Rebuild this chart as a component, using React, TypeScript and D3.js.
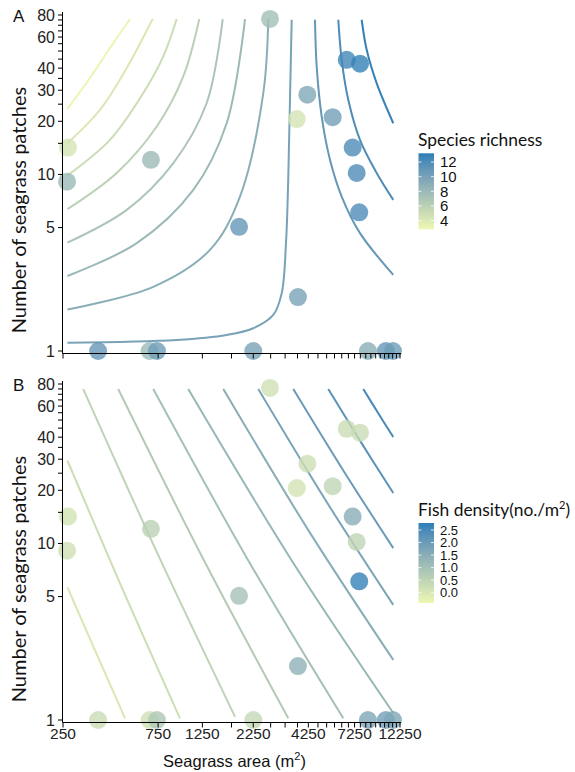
import React from "react";
import * as d3 from "d3";

const W = 575;
const H = 772;

// axis ticks
const areaTicks = d3.range(250, 12251, 500);
const areaTickLabels = [250, 750, 1250, 2250, 4250, 7250, 12250];
const patchTicks = [1, 5, 10, 15, 20, 25, 30, 35, 40, 45, 50, 55, 60, 65, 70, 75, 80];
const patchTickLabels = [1, 5, 10, 20, 30, 40, 60, 80];

// sites
const siteArea = [375, 680, 740, 2250, 8460, 10400, 11300, 265, 262, 690, 1910, 2730, 3770, 3720, 4200, 5630, 6620, 7720, 7090, 7430, 7650];
const sitePatches = [1, 1, 1, 1, 1, 1, 1, 14.2, 9.1, 12.1, 5.05, 76, 2.02, 20.6, 28.3, 21.1, 44.6, 42.4, 14.2, 10.2, 6.1];
const speciesRichness = [11, 8, 10.5, 10, 9, 11, 10.5, 4.5, 8, 8, 11, 7.5, 10, 4.5, 9.5, 10.3, 12.5, 13, 12, 12, 12];
const fishDensity = [0.3, 0.2, 0.8, 0.4, 1.7, 1.9, 1.7, 0.12, 0.2, 0.6, 1.0, 0.2, 1.4, 0.15, 0.25, 0.45, 0.3, 0.3, 1.5, 0.5, 2.7];

// legends
const richnessLegendTicks = [4, 6, 8, 10, 12];
const densityLegendTicks = [0, 0.5, 1, 1.5, 2, 2.5];
const richnessRange: [number, number] = [2.8, 13.2];
const densityRange: [number, number] = [-0.41, 2.78];

// fitted contour lines [area, patches]
const richnessLevels = [3, 4, 5, 6, 7, 8, 9, 10, 11, 12, 13];
const richnessContours: [number, number][][] = [
  [[263, 23.5], [341, 35.2], [430, 52.0], [542, 75.9]],
  [[263, 15.0], [383, 23.2], [522, 40.1], [704, 75.9]],
  [[263, 9.86], [430, 15.7], [632, 28.9], [796, 46.6], [929, 75.9]],
  [[263, 6.36], [465, 10.2], [738, 18.7], [1003, 35.9], [1206, 75.9]],
  [[263, 4.11], [522, 6.3], [894, 11.6], [1314, 25.4], [1581, 75.9]],
  [[263, 2.66], [586, 4.08], [1126, 8.18], [1655, 19.5], [2045, 75.9]],
  [[263, 1.72], [709, 2.31], [1365, 3.74], [1930, 7.49], [2526, 28.9], [2676, 75.9]],
  [[263, 1.115], [929, 1.154], [1655, 1.232], [2250, 1.345], [2835, 1.6], [3124, 2.12], [3283, 4.08], [3372, 9.73], [3438, 26.5], [3507, 75.2]],
  [[4590, 75.2], [4680, 40.9], [4958, 21.3], [5457, 12.1], [6247, 7.49], [7717, 4.65], [11333, 2.7]],
  [[6006, 75.2], [6247, 44.6], [6740, 26.5], [7717, 15.7], [9355, 10.2], [11333, 7.18]],
  [[7869, 75.2], [8337, 50.8], [9355, 32.9], [11333, 19.5]],
];
const densityLevels = [0, 0.25, 0.5, 0.75, 1, 1.25, 1.5, 1.75, 2, 2.25, 2.5];
const densityContours: [number, number][][] = [
  [[263, 5.65], [367, 2.39], [512, 1.022]],
  [[263, 29.5], [504, 5.32], [965, 1.022]],
  [[316, 74.9], [759, 8.36], [1822, 1.044]],
  [[473, 74.9], [1263, 8.16], [3372, 1.022]],
  [[709, 74.9], [2124, 8.01], [6363, 1.022]],
  [[1062, 74.9], [3470, 8.17], [11333, 1.096]],
  [[1592, 74.9], [4248, 11.9], [11333, 2.19]],
  [[2384, 74.9], [5198, 17.5], [11333, 4.49]],
  [[3572, 74.9], [6363, 25.9], [11333, 9.41]],
  [[5350, 74.9], [7788, 37.6], [11333, 19.3]],
  [[8016, 74.9], [9530, 54.6], [11333, 40.1]],
];

const LOW = "#EDF8B1";
const HIGH = "#2C7FB8";
const SANS = "'Liberation Sans', Arial, sans-serif";
const TITLE = "Lato, 'Open Sans', sans-serif";

const x = d3.scaleLog().domain([250, 12250]).range([63, 400]);

function makeColor(range: [number, number]) {
  return d3.scaleLinear<string>().domain(range).range([LOW, HIGH]).interpolate(d3.interpolateLab);
}

type PanelProps = {
  letter: string;
  y1: number;
  y80: number;
  values: number[];
  range: [number, number];
  contours: [number, number][][];
  levels: number[];
  showXLabels: boolean;
};

function Panel({ letter, y1, y80, values, range, contours, levels, showXLabels }: PanelProps) {
  const y = d3.scaleLog().domain([1, 80]).range([y1, y80]);
  const color = makeColor(range);
  const line = d3
    .line<[number, number]>()
    .x((d) => x(d[0]))
    .y((d) => y(d[1]))
    .curve(d3.curveCatmullRom.alpha(0.5));
  const axisY = y1 + 2.5;
  const axisX = 62.5;
  const top = y80 - 3;
  const mid = (y1 + y80) / 2;
  return (
    <g>
      <text x={13} y={y80 + 7} fontFamily={SANS} fontSize={17} fill="#111">
        {letter}
      </text>
      {contours.map((c, i) => (
        <path key={i} d={line(c) || ""} fill="none" stroke={color(levels[i])} strokeWidth={2} />
      ))}
      {siteArea.map((a, i) => (
        <circle key={i} cx={x(a)} cy={y(sitePatches[i])} r={9} fill={color(values[i])} fillOpacity={0.8} />
      ))}
      <line x1={axisX} x2={axisX} y1={top} y2={axisY} stroke="#000" strokeWidth={1} />
      <line x1={axisX} x2={401} y1={axisY} y2={axisY} stroke="#000" strokeWidth={1} />
      {patchTicks.map((t) => (
        <line key={t} x1={axisX - 4.5} x2={axisX} y1={y(t)} y2={y(t)} stroke="#000" strokeWidth={1} />
      ))}
      {patchTickLabels.map((t) => (
        <text key={t} x={55} y={y(t)} dy="0.36em" textAnchor="end" fontFamily={SANS} fontSize={16} fill="#222">
          {t}
        </text>
      ))}
      {areaTicks.map((t) => (
        <line key={t} x1={x(t)} x2={x(t)} y1={axisY} y2={axisY + 5} stroke="#000" strokeWidth={1} />
      ))}
      {showXLabels &&
        areaTickLabels.map((t) => (
          <text key={t} x={x(t)} y={axisY + 16} textAnchor="middle" fontFamily={SANS} fontSize={15.5} fill="#222">
            {t}
          </text>
        ))}
      <text
        transform={`translate(26,${mid + 27}) rotate(-90)`}
        textAnchor="middle"
        fontFamily={TITLE}
        fontSize={20}
        fill="#111"
      >
        Number of seagrass patches
      </text>
    </g>
  );
}

function Legend({ id, title, sup, x0, titleY, barTop, barBottom, range, ticks, fontSize, fmt }: any) {
  const color = makeColor(range);
  const s = d3.scaleLinear().domain(range).range([barBottom, barTop]);
  const stops = d3.range(0, 11).map((i) => i / 10);
  const bw = 15.5;
  return (
    <g>
      <defs>
        <linearGradient id={id} x1="0" y1="1" x2="0" y2="0">
          {stops.map((p) => (
            <stop key={p} offset={p} stopColor={color(range[0] + p * (range[1] - range[0]))} />
          ))}
        </linearGradient>
      </defs>
      <text x={x0 - 0.5} y={titleY} fontFamily={TITLE} fontSize={17.4} fill="#111">
        {title}
        {sup && (
          <tspan fontSize={11} dy={-7}>
            {sup}
          </tspan>
        )}
        {sup && <tspan dy={7}>)</tspan>}
      </text>
      <rect x={x0} y={barTop} width={bw} height={barBottom - barTop} fill={`url(#${id})`} />
      {ticks.map((t: number) => (
        <g key={t}>
          <line x1={x0} x2={x0 + 3} y1={s(t)} y2={s(t)} stroke="#fff" strokeWidth={0.8} />
          <line x1={x0 + bw - 3} x2={x0 + bw} y1={s(t)} y2={s(t)} stroke="#fff" strokeWidth={0.8} />
          <text x={x0 + 21.5} y={s(t)} dy="0.36em" fontFamily={SANS} fontSize={fontSize} fill="#111">
            {fmt(t)}
          </text>
        </g>
      ))}
    </g>
  );
}

export default function App() {
  return (
    <svg
      width={W}
      height={H}
      viewBox={`0 0 ${W} ${H}`}
      style={{ position: "absolute", left: 0, top: 0, display: "block", background: "#fff" }}
    >
      <rect width={W} height={H} fill="#fff" />
      <Panel
        letter="A"
        y1={351}
        y80={15}
        values={speciesRichness}
        range={richnessRange}
        contours={richnessContours}
        levels={richnessLevels}
        showXLabels={false}
      />
      <Panel
        letter="B"
        y1={720}
        y80={384}
        values={fishDensity}
        range={densityRange}
        contours={densityContours}
        levels={densityLevels}
        showXLabels={true}
      />
      <text x={(63 + 400) / 2 + 3} y={767} textAnchor="middle" fontFamily={SANS} fontSize={16.5} fill="#111">
        Seagrass area (m
        <tspan fontSize={11} dy={-7}>
          2
        </tspan>
        <tspan dy={7}>)</tspan>
      </text>
      <Legend
        id="gradA"
        title="Species richness"
        x0={418.5}
        titleY={146}
        barTop={153.3}
        barBottom={229.3}
        range={richnessRange}
        ticks={richnessLegendTicks}
        fontSize={15}
        fmt={(t: number) => String(t)}
      />
      <Legend
        id="gradB"
        title="Fish density(no./m"
        sup="2"
        x0={418.5}
        titleY={516}
        barTop={523}
        barBottom={603}
        range={densityRange}
        ticks={densityLegendTicks}
        fontSize={13}
        fmt={(t: number) => d3.format(".1f")(t)}
      />
    </svg>
  );
}
